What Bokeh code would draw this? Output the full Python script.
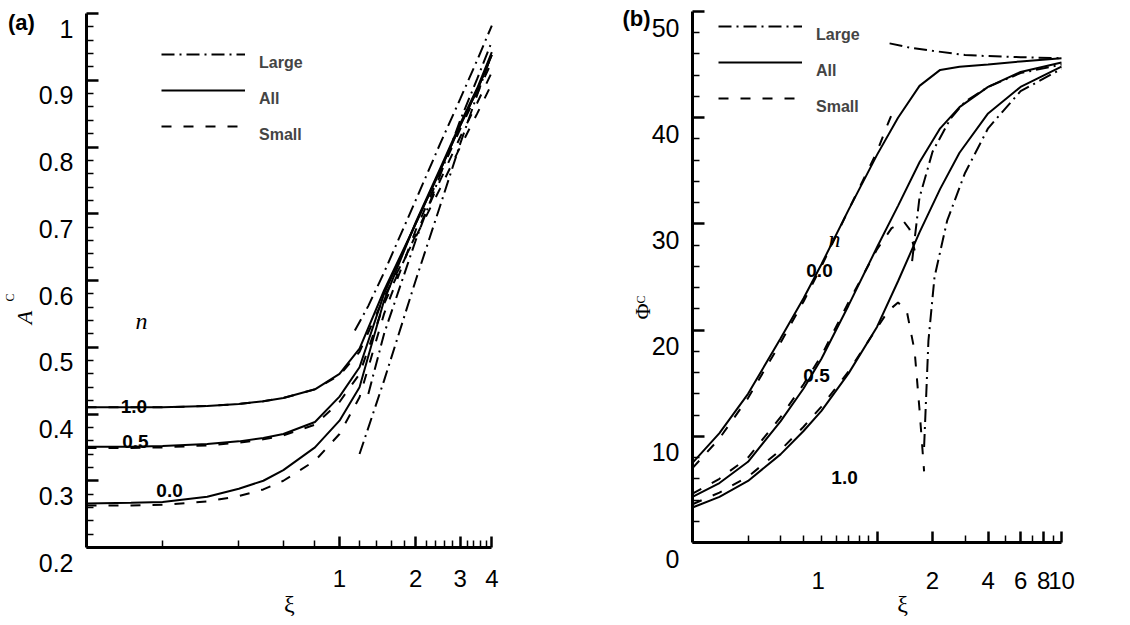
import math
from bokeh.plotting import figure
from bokeh.layouts import row
from bokeh.models import (FixedTicker, LinearAxis, LogAxis, Range1d, Label, Legend,
                          LegendItem, NumeralTickFormatter)
from bokeh.embed import file_html
from bokeh.resources import INLINE

# ---------------- panel (a): A_C vs xi ----------------
xi_a = [0.1, 0.15, 0.2, 0.3, 0.4, 0.5, 0.6, 0.8, 1.0, 1.2, 1.5, 2.0, 2.5, 3.0, 3.5, 4.0]
a_all_n10 = [0.410, 0.410, 0.410, 0.412, 0.415, 0.419, 0.424, 0.437, 0.460, 0.498, 0.585, 0.685, 0.765, 0.832, 0.885, 0.938]
a_all_n05 = [0.351, 0.351, 0.352, 0.355, 0.359, 0.364, 0.370, 0.388, 0.426, 0.470, 0.580, 0.685, 0.765, 0.832, 0.885, 0.938]
a_all_n00 = [0.266, 0.267, 0.268, 0.276, 0.288, 0.300, 0.316, 0.350, 0.390, 0.440, 0.570, 0.687, 0.768, 0.835, 0.888, 0.942]
a_small_n10 = [0.410, 0.410, 0.410, 0.412, 0.415, 0.419, 0.424, 0.437, 0.458, 0.493, 0.575, 0.665, 0.738, 0.800, 0.850, 0.895]
a_small_n05 = [0.349, 0.349, 0.350, 0.353, 0.357, 0.362, 0.368, 0.384, 0.418, 0.460, 0.565, 0.668, 0.750, 0.815, 0.866, 0.912]
a_small_n00 = [0.263, 0.263, 0.264, 0.269, 0.277, 0.287, 0.300, 0.330, 0.370, 0.425, 0.550, 0.675, 0.760, 0.827, 0.880, 0.928]
xi_a_l10 = [1.15, 1.3, 1.5, 2.0, 2.5, 3.0, 3.5, 4.0]
a_large_n10 = [0.525, 0.562, 0.612, 0.720, 0.805, 0.872, 0.930, 0.982]
xi_a_l05 = [1.3, 1.5, 2.0, 2.5, 3.0, 3.5, 4.0]
a_large_n05 = [0.430, 0.520, 0.660, 0.758, 0.840, 0.902, 0.958]
xi_a_l00 = [1.2, 1.5, 2.0, 2.5, 3.0, 3.5, 4.0]
a_large_n00 = [0.340, 0.450, 0.600, 0.712, 0.805, 0.878, 0.940]

a_xticks = [1, 2, 3, 4]
a_xlabels = ["1", "2", "3", "4"]
a_xminor = [0.2, 0.4, 0.6, 0.8, 1.2, 1.4, 1.6, 1.8, 2.2, 2.4, 2.6, 2.8, 3.2, 3.4, 3.6, 3.8]
a_yticks = [0.2, 0.3, 0.4, 0.5, 0.6, 0.7, 0.8, 0.9, 1.0]
a_ylabels = ["0.2", "0.3", "0.4", "0.5", "0.6", "0.7", "0.8", "0.9", "1"]
a_yminor = [0.22, 0.24, 0.26, 0.28, 0.32, 0.34, 0.36, 0.38, 0.42, 0.44, 0.46, 0.48,
            0.52, 0.54, 0.56, 0.58, 0.62, 0.64, 0.66, 0.68, 0.72, 0.74, 0.76, 0.78,
            0.82, 0.84, 0.86, 0.88, 0.92, 0.94, 0.96, 0.98]

# ---------------- panel (b): Phi_C vs xi ----------------
xi_b = [0.1, 0.14, 0.2, 0.3, 0.4, 0.5, 0.7, 1.0, 1.3, 1.7, 2.2, 2.8, 4.0, 6.0, 10.0]
b_all_n00 = [7.5, 10.3, 14.0, 19.2, 23.0, 26.2, 31.3, 36.5, 40.0, 43.0, 44.5, 44.8, 45.0, 45.3, 45.6]
b_all_n05 = [4.3, 5.6, 7.6, 11.4, 14.5, 17.3, 22.3, 27.8, 31.7, 35.8, 39.0, 41.0, 42.9, 44.3, 45.2]
b_all_n10 = [3.3, 4.3, 5.8, 8.3, 10.5, 12.4, 15.9, 20.3, 24.6, 29.2, 33.3, 36.7, 40.4, 42.9, 44.8]
xi_b_s00 = [0.1, 0.14, 0.2, 0.3, 0.4, 0.5, 0.7, 1.0, 1.15, 1.25]
b_small_n00 = [7.0, 9.8, 13.6, 18.8, 22.7, 26.0, 31.3, 36.8, 39.5, 41.0]
xi_b_s05 = [0.1, 0.14, 0.2, 0.3, 0.4, 0.5, 0.7, 1.0, 1.2, 1.4, 1.5, 1.6]
b_small_n05 = [4.6, 6.0, 8.0, 11.8, 14.9, 17.6, 22.6, 27.6, 29.6, 30.2, 29.5, 27.5]
xi_b_s10 = [0.1, 0.14, 0.2, 0.3, 0.4, 0.5, 0.7, 1.0, 1.15, 1.3, 1.45, 1.6, 1.7, 1.8]
b_small_n10 = [3.6, 4.7, 6.2, 8.7, 10.9, 12.8, 16.1, 20.2, 21.8, 22.6, 21.8, 18.0, 12.5, 6.7]
xi_b_l00 = [1.17, 1.5, 2.0, 3.0, 4.0, 6.0, 10.0]
b_large_n00 = [47.0, 46.6, 46.3, 45.9, 45.8, 45.7, 45.6]
xi_b_l05 = [1.55, 1.7, 2.0, 2.5, 3.0, 4.0, 6.0, 10.0]
b_large_n05 = [26.5, 32.5, 36.8, 39.9, 41.5, 42.9, 44.2, 45.0]
xi_b_l10 = [1.8, 1.9, 2.05, 2.4, 3.0, 4.0, 6.0, 10.0]
b_large_n10 = [9.0, 19.0, 25.0, 30.3, 34.8, 39.0, 42.5, 44.6]

b_xticks = [1, 2, 4, 6, 8, 10]
b_xlabel_pos = [0.48, 2, 4, 6, 8, 10]      # the "1" label sits left of its tick in the original
b_xlabels = ["1", "2", "4", "6", "8", "10"]
b_xminor = [0.2, 0.3, 0.4, 0.5, 0.6, 0.7, 0.8, 0.9, 3, 5, 7, 9]
b_yticks = [0, 10, 20, 30, 40, 50]
b_ylabels = ["0", "10", "20", "30", "40", "50"]
b_yminor = [2, 4, 6, 8, 12, 14, 16, 18, 22, 24, 26, 28, 32, 34, 36, 38, 42, 44, 46, 48]

legend_labels = ["Large", "All", "Small"]

SANS = "Liberation Sans"
SERIF = "Liberation Serif"
DASH = "10 12"
DASHDOT = "13 5 2 5"
H = 616


def make_panel(xr, yr, w):
    p = figure(x_axis_type="log", x_range=Range1d(*xr), y_range=Range1d(*yr),
               frame_width=w, frame_height=H, min_border=0,
               output_backend="svg", toolbar_location=None)
    p.grid.visible = False
    p.outline_line_color = None
    return p


def style_axes(p, x0, x1, y0, y1, xt, xm, yt, ym, yl, ylab_shift, ystandoff):
    xa = p.xaxis[0]
    xa.fixed_location = y0
    xa.bounds = (x0, x1)
    xa.ticker = FixedTicker(ticks=xt, minor_ticks=xm)
    xa.formatter = NumeralTickFormatter(format="0")
    xa.axis_line_width = 3
    xa.major_tick_in = 11
    xa.major_tick_out = 0
    xa.minor_tick_in = 7
    xa.minor_tick_out = 0
    xa.major_tick_line_width = 2.5
    xa.minor_tick_line_width = 1.5
    xa.major_label_standoff = 22
    xa.major_label_text_font = SANS
    xa.major_label_text_font_size = "24px"
    xa.major_label_text_color = "black"

    ya = p.yaxis[0]
    ya.fixed_location = x0
    ya.bounds = (y0, y1)
    ya.ticker = FixedTicker(ticks=yt, minor_ticks=ym)
    ya.major_label_overrides = {t: "" for t in yt}
    ya.axis_line_width = 3
    ya.major_tick_in = 12
    ya.major_tick_out = 0
    ya.minor_tick_in = 7
    ya.minor_tick_out = 0
    ya.major_tick_line_width = 2.5
    ya.minor_tick_line_width = 1.5

    # tick labels of the y axis sit a little below their ticks in the original
    r = p.y_range
    p.extra_y_ranges = {"ylab": Range1d(r.start + ylab_shift, r.end + ylab_shift)}
    la = LinearAxis(y_range_name="ylab", ticker=FixedTicker(ticks=yt, minor_ticks=[]),
                    fixed_location=x0)
    la.axis_line_color = None
    la.major_tick_line_color = None
    la.minor_tick_line_color = None
    la.major_label_overrides = dict(zip(yt, yl))
    la.major_label_standoff = ystandoff
    la.major_label_text_font = SANS
    la.major_label_text_font_size = "25px"
    la.major_label_text_color = "black"
    p.add_layout(la, "left")


def add_text(p, x, y, text, font, size, style, angle=0.0, align="center"):
    p.add_layout(Label(x=x, y=y, text=text, text_font=font,
                       text_font_size=size, text_font_style=style, text_color="black",
                       text_align=align, text_baseline="middle", angle=angle))


def add_legend(p, renderers, loc):
    # leading empty line puts each label a line below its sample, as in the original
    items = [LegendItem(label="\n" + lab, renderers=[r])
             for lab, r in zip(legend_labels, renderers)]
    leg = Legend(items=items, location=loc, glyph_width=84, glyph_height=20,
                 label_height=20, spacing=0, padding=0, margin=0,
                 label_standoff=14, border_line_color=None, background_fill_alpha=0,
                 label_text_font=SANS, label_text_font_size="16px",
                 label_text_line_height=1.1, label_text_font_style="bold")
    p.add_layout(leg)


kw = dict(line_color="black", line_width=2)

# ---------- panel (a) ----------  canvas x 1..551, y 1..617 (screen px)
ka, x1a, kya, y02a = 253.0, 340.0, 667.5, 548.0
xr_a = (10 ** ((1 - x1a) / ka), 10 ** ((551 - x1a) / ka))
yr_a = (0.2 - (617 - y02a) / kya, 0.2 + (y02a - 1) / kya)
pa = make_panel(xr_a, yr_a, 550)
style_axes(pa, 0.1, 4.0, 0.2, 1.0, a_xticks, a_xminor, a_yticks, a_yminor, a_ylabels,
           15 / kya, 7)
pa.xaxis[0].major_label_overrides = dict(zip(a_xticks, a_xlabels))
ra1 = pa.line(xi_a, a_all_n10, **kw)
pa.line(xi_a, a_all_n05, **kw)
pa.line(xi_a, a_all_n00, **kw)
rs1 = pa.line(xi_a, a_small_n10, line_dash=DASH, **kw)
pa.line(xi_a, a_small_n05, line_dash=DASH, **kw)
pa.line(xi_a, a_small_n00, line_dash=DASH, **kw)
rl1 = pa.line(xi_a_l10, a_large_n10, line_dash=DASHDOT, **kw)
pa.line(xi_a_l05, a_large_n05, line_dash=DASHDOT, **kw)
pa.line(xi_a_l00, a_large_n00, line_dash=DASHDOT, **kw)
add_legend(pa, [rl1, ra1, rs1], (161, 472))
add_text(pa, 0.165, 0.539, "n", SERIF, "24px", "italic")
add_text(pa, 0.154, 0.411, "1.0", SANS, "19px", "bold")
add_text(pa, 0.156, 0.359, "0.5", SANS, "19px", "bold")
add_text(pa, 0.213, 0.286, "0.0", SANS, "19px", "bold")
add_text(pa, 0.0553, 0.9865, "(a)", SANS, "22px", "bold")
add_text(pa, 0.0571, 0.5446, "A", SERIF, "22px", "italic", angle=math.pi / 2)
add_text(pa, 0.0500, 0.5745, "C", SERIF, "12px", "normal", angle=math.pi / 2)
add_text(pa, 0.634, 0.1161, "ξ", SERIF, "24px", "normal")

# ---------- panel (b) ----------  canvas x 551..1115
kb, x1b, kyb, y0b = 184.5, 877.5, 10.62, 543.0
xr_b = (10 ** ((551 - x1b) / kb), 10 ** ((1115 - x1b) / kb))
yr_b = (-(617 - y0b) / kyb, (y0b - 1) / kyb)
pb = make_panel(xr_b, yr_b, 564)
style_axes(pb, 0.1, 10.0, 0, 50, b_xticks, b_xminor, b_yticks, b_yminor, b_ylabels,
           16 / kyb, 7)
pb.xaxis[0].major_label_overrides = {t: "" for t in b_xticks}
lx = LogAxis(ticker=FixedTicker(ticks=b_xlabel_pos, minor_ticks=[]), fixed_location=0)
lx.axis_line_color = None
lx.major_tick_line_color = None
lx.minor_tick_line_color = None
lx.major_label_overrides = dict(zip(b_xlabel_pos, b_xlabels))
lx.major_label_standoff = 23
lx.major_label_text_font = SANS
lx.major_label_text_font_size = "24px"
lx.major_label_text_color = "black"
pb.add_layout(lx, "below")

ra2 = pb.line(xi_b, b_all_n00, **kw)
pb.line(xi_b, b_all_n05, **kw)
pb.line(xi_b, b_all_n10, **kw)
rs2 = pb.line(xi_b_s00, b_small_n00, line_dash=DASH, **kw)
pb.line(xi_b_s05, b_small_n05, line_dash=DASH, **kw)
pb.line(xi_b_s10, b_small_n10, line_dash=DASH, **kw)
rl2 = pb.line(xi_b_l00, b_large_n00, line_dash=DASHDOT, **kw)
pb.line(xi_b_l05, b_large_n05, line_dash=DASHDOT, **kw)
pb.line(xi_b_l10, b_large_n10, line_dash=DASHDOT, **kw)
add_legend(pb, [rl2, ra2, rs2], (168, 500))
add_text(pb, 0.588, 28.6, "n", SERIF, "24px", "italic")
add_text(pb, 0.488, 25.6, "0.0", SANS, "19px", "bold")
add_text(pb, 0.47, 15.7, "0.5", SANS, "19px", "bold")
add_text(pb, 0.667, 6.1, "1.0", SANS, "19px", "bold")
add_text(pb, 0.0497, 49.3, "(b)", SANS, "22px", "bold")
add_text(pb, 0.0536, 21.75, "Φ", SERIF, "22px", "normal", angle=math.pi / 2)
add_text(pb, 0.0523, 22.88, "C", SERIF, "12px", "normal", angle=math.pi / 2)
add_text(pb, 1.375, -5.75, "ξ", SERIF, "24px", "normal")

layout = row(pa, pb)
open("out.html", "w").write(file_html(layout, INLINE))
